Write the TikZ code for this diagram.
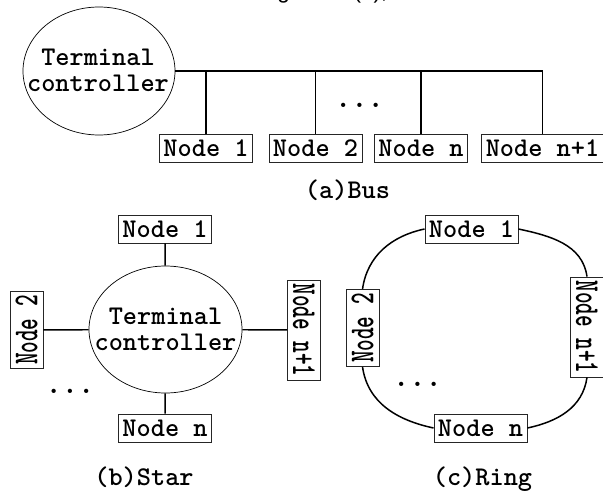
\documentclass[tikz,border=0pt]{standalone}
\usepackage{fontspec}
\newfontfamily\capfont{Liberation Sans}
\usetikzlibrary{shapes.geometric}
\newcommand\tfont{\ttfamily\bfseries\fontsize{27}{26}\selectfont}
\newcommand\dotfont{\ttfamily\bfseries\fontsize{31}{31}\selectfont}
\tikzset{
  box/.style={draw=black!85, line width=0.8pt, fill=white, font=\tfont,
    inner xsep=4pt, inner ysep=0pt, minimum height=28pt},
  vbox/.style={draw=black!85, line width=0.8pt, fill=white, font=\tfont,
    inner xsep=5.5pt, inner ysep=3.5pt},
  ctrl/.style={ellipse, draw, line width=0.7pt, minimum width=152pt,
    minimum height=128pt, inner sep=0pt},
  ctrltext/.style={align=center, font=\tfont, inner sep=0pt},
  wire/.style={line width=1.8pt},
  sline/.style={line width=1.4pt},
  rline/.style={line width=1.5pt},
  caption/.style={font=\tfont, anchor=base},
  dots/.style={font=\dotfont, anchor=base, inner sep=0pt}
}
\newcommand\vtext[2]{\rotatebox{#1}{\scalebox{0.82}[1.3]{#2}}}
\begin{document}
\begin{tikzpicture}[x=1pt,y=-1pt]
\useasboundingbox (0,0) rectangle (603,495);
% cut-off text line at the top edge
\begin{scope}
\clip (0,0) rectangle (603,495);
\node[anchor=base west, inner sep=0pt, font=\capfont\fontsize{22.5}{22.5}\selectfont] (toptext) at (258.5,-1) {Figure 10(a),};
\end{scope}

% ---------- (a) Bus ----------
\node[ctrl] (tc) at (99,71) {};
\node[ctrltext] (tct) at (98,70) {Terminal\\controller};
\node[box] (b1) at (206,148) {Node 1};
\node[box] (b2) at (315.5,148) {Node 2};
\node[box] (b3) at (421,148) {Node n};
\node[box] (b4) at (542.5,148) {Node n+1};
\draw[wire] (tc.east) -- (b4.north |- tc.east) -- (b4.north);
\draw[wire] (b1.north |- tc.east) -- (b1.north);
\draw[wire] (b2.north |- tc.east) -- (b2.north);
\draw[wire] (b3.north |- tc.east) -- (b3.north);
\node[dots] (bdots) at (359.5,107) {...};
\node[caption] (capa) at (347.5,198) {(a)Bus};

% ---------- (b) Star ----------
\node[ctrl, minimum width=153pt, minimum height=127pt] (sc) at (165.5,329.5) {};
\node[ctrltext] (sct) at (165.5,329) {Terminal\\controller};
\node[box] (s1) at (165,229) {Node 1};
\node[box] (sn) at (165,428) {Node n};
\node[vbox] (s2) at (26.5,330) {\vtext{90}{Node 2}};
\node[vbox] (sn1) at (304,330) {\vtext{-90}{Node n+1}};
\draw[sline] (s1) -- (sc);
\draw[sline] (sn) -- (sc);
\draw[sline] (s2) -- (sc);
\draw[sline] (sn1) -- (sc);
\node[dots] (sdots) at (70,393) {...};
\node[caption] (capb) at (144,485) {(b)Star};

% ---------- (c) Ring ----------
\node[box] (r1) at (471.5,229) {Node 1};
\node[box] (rn) at (480.5,428) {Node n};
\node[vbox] (r2) at (362.5,328) {\vtext{90}{Node 2}};
\node[vbox] (rn1) at (587,327) {\vtext{-90}{Node n+1}};
\draw[rline] (r1.west) to[out=192,in=82] (r2.north);
\draw[rline] (r2.south) to[out=-82,in=168] (rn.west);
\draw[rline] (rn.east) to[out=12,in=262] (rn1.south);
\draw[rline] (rn1.north) to[out=98,in=-12] (r1.east);
\node[dots] (rdots) at (417.5,386) {...};
\node[caption] (capc) at (482.5,485) {(c)Ring};
\end{tikzpicture}
\end{document}
